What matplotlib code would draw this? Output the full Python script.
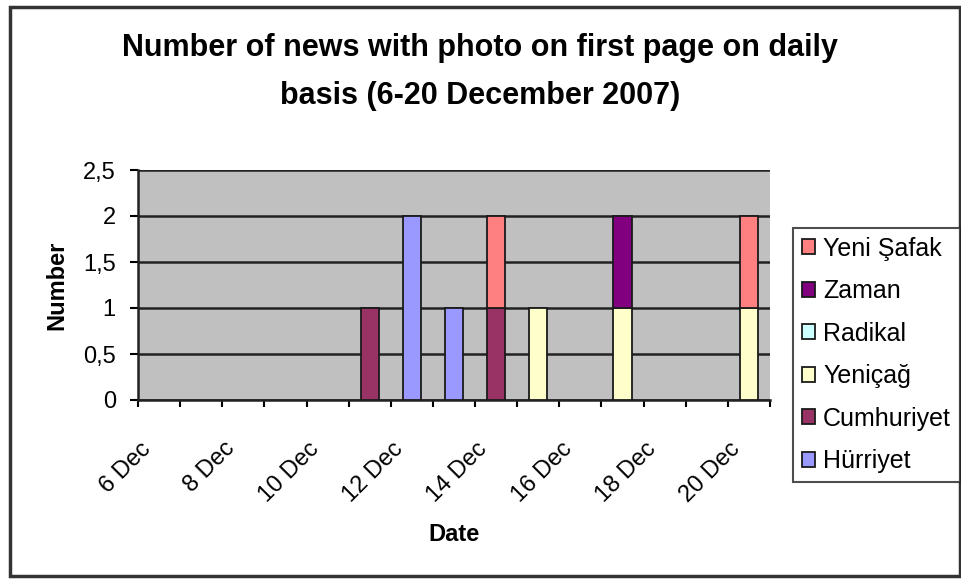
import numpy as np
import matplotlib
matplotlib.use("Agg")
import matplotlib.pyplot as plt
from matplotlib.patches import Patch, Rectangle
from matplotlib.ticker import FuncFormatter
from matplotlib.transforms import ScaledTranslation

plt.rcParams["font.family"] = ["Liberation Sans", "DejaVu Sans"]

dates = [f"{d} Dec" for d in range(6, 21)]

# stacked from the bottom up
series_names = ["Hürriyet", "Cumhuriyet", "Yeniçağ", "Radikal", "Zaman", "Yeni Şafak"]
hurriyet   = [0, 0, 0, 0, 0, 0, 2, 1, 0, 0, 0, 0, 0, 0, 0]
cumhuriyet = [0, 0, 0, 0, 0, 1, 0, 0, 1, 0, 0, 0, 0, 0, 0]
yenicag    = [0, 0, 0, 0, 0, 0, 0, 0, 0, 1, 0, 1, 0, 0, 1]
radikal    = [0, 0, 0, 0, 0, 0, 0, 0, 0, 0, 0, 0, 0, 0, 0]
zaman      = [0, 0, 0, 0, 0, 0, 0, 0, 0, 0, 0, 1, 0, 0, 0]
yeni_safak = [0, 0, 0, 0, 0, 0, 0, 0, 1, 0, 0, 0, 0, 0, 1]

series_values = [hurriyet, cumhuriyet, yenicag, radikal, zaman, yeni_safak]
colors = ["#9999FF", "#993366", "#FFFFCC", "#CCFFFF", "#800080", "#FF8080"]

fig = plt.figure(figsize=(9.62, 5.79), dpi=100)
ax = fig.add_axes([138 / 962, 1 - 400 / 579, (770 - 138) / 962, (400 - 170) / 579])
ax.set_facecolor("#C0C0C0")

x = np.arange(len(dates))
bottom = np.zeros(len(dates))
for name, vals, col in zip(series_names, series_values, colors):
    vals = np.array(vals, dtype=float)
    mask = vals > 0
    if mask.any():
        ax.bar(x[mask], vals[mask], bottom=bottom[mask], width=0.43,
               color=col, edgecolor="#1a1a1a", linewidth=1.3, zorder=3)
    bottom += vals

ax.set_xlim(-0.5, len(dates) - 0.5)
ax.set_ylim(0, 2.5)
ax.set_yticks(np.arange(0, 2.51, 0.5))
ax.yaxis.set_major_formatter(FuncFormatter(
    lambda v, _: f"{v:g}".replace(".", ",")))
ax.grid(axis="y", color="#222222", linewidth=1.8, zorder=1)
ax.set_axisbelow(True)

# labels every other day, tick marks between categories
ax.set_xticks(x[::2])
ax.set_xticklabels(dates[::2], rotation=45, ha="right", va="center",
                   rotation_mode="anchor")
ax.set_xticks(np.arange(-0.5, len(dates), 1.0), minor=True)
ax.tick_params(axis="x", which="major", length=0, pad=22, labelsize=17)
ax.tick_params(axis="x", which="minor", length=5, width=1.5, direction="out")
ax.tick_params(axis="y", length=6, width=1.5, labelsize=17, pad=10)
shift = ScaledTranslation(-12 / 100, -15 / 100, fig.dpi_scale_trans)
for lbl in ax.get_xticklabels():
    lbl.set_transform(lbl.get_transform() + shift)

for side in ["left", "bottom"]:
    ax.spines[side].set_color("#222222")
    ax.spines[side].set_linewidth(1.8)
ax.spines["top"].set_visible(False)
ax.spines["right"].set_visible(False)

ax.set_ylabel("Number", fontsize=17, fontweight="bold")
ax.yaxis.set_label_coords((68 - 138) / 632, 0.5)
ax.set_xlabel("Date", fontsize=17, fontweight="bold")
ax.xaxis.set_label_coords(0.5, (400 - 523) / 230)

fig.text(480 / 962, 1 - 72 / 579,
         "Number of news with photo on first page on daily\nbasis (6-20 December 2007)",
         ha="center", va="center", fontsize=22, fontweight="bold",
         linespacing=1.75)

handles = [Patch(facecolor=c, edgecolor="#1a1a1a", linewidth=1.3)
           for c in colors]
leg = fig.legend(handles[::-1], series_names[::-1],
                 loc="upper left", bbox_to_anchor=(793 / 962, 1 - 228 / 579),
                 fontsize=18, frameon=True, fancybox=False, borderaxespad=0,
                 handlelength=0.55, handleheight=0.55, handletextpad=0.3,
                 labelspacing=0.74, borderpad=0.35)
leg.get_frame().set_edgecolor("#222222")
leg.get_frame().set_linewidth(1.5)

fig.patches.append(Rectangle((10 / 962, 3 / 579), 950 / 962, 569 / 579,
                             transform=fig.transFigure, fill=False,
                             edgecolor="#333333", linewidth=2.5))

fig.savefig("out.png", dpi=100)
